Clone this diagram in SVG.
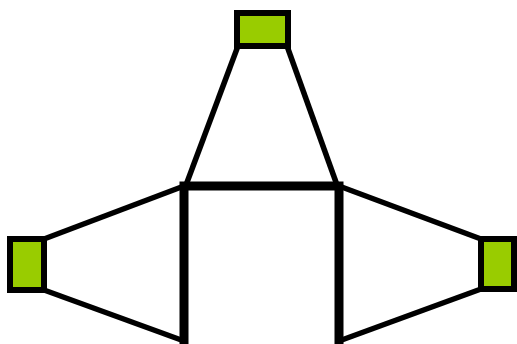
<svg xmlns="http://www.w3.org/2000/svg" width="517" height="344" viewBox="0 0 517 344">
<style>
.n{fill:#99cc00;stroke:#000;stroke-width:6}
.t{stroke:#000;stroke-width:5.5;fill:none}
.k{stroke:#000;stroke-width:9;fill:none}
</style>
<rect width="517" height="344" fill="#fff"/>
<g id="connectors">
<line class="t" x1="238" y1="46" x2="186" y2="185"/>
<line class="t" x1="287" y1="46" x2="337" y2="185"/>
<line class="t" x1="44" y1="239" x2="184" y2="186"/>
<line class="t" x1="44" y1="290" x2="184" y2="341"/>
<line class="t" x1="481" y1="239" x2="339" y2="186"/>
<line class="t" x1="481" y1="289" x2="339" y2="341"/>
<path class="k" d="M184 344 V186 H339 V344"/>
</g>
<g id="top"><rect class="n" x="237" y="13" width="51" height="33"/></g>
<g id="left"><rect class="n" x="10" y="239" width="34" height="51"/></g>
<g id="right"><rect class="n" x="481" y="239" width="33" height="50"/></g>
</svg>
